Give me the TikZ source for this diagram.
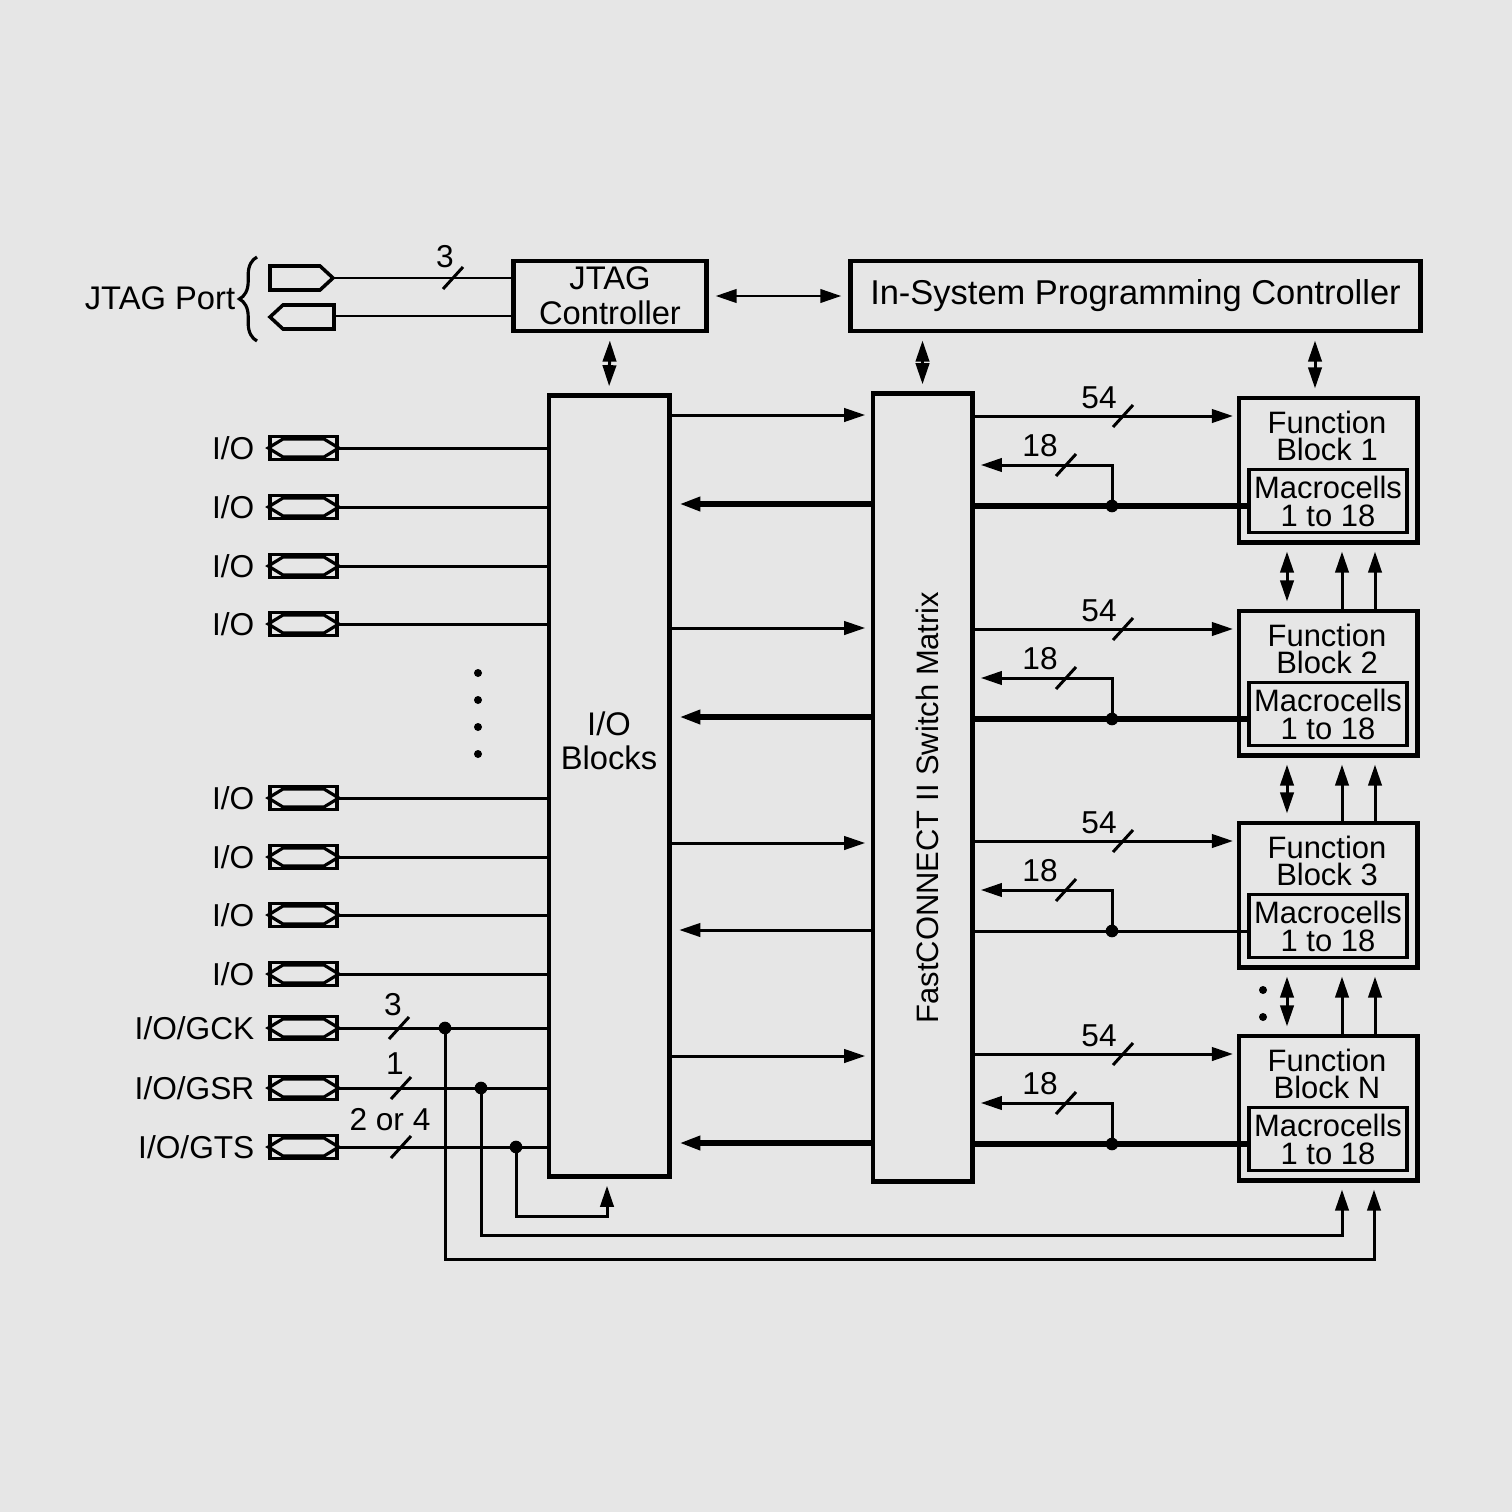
\documentclass[tikz,border=0pt]{standalone}
\usepackage{fontspec}
\setmainfont{Liberation Sans}
\usetikzlibrary{arrows.meta,positioning,decorations.pathreplacing}
\definecolor{bggray}{RGB}{230,230,230}
\begin{document}
\begin{tikzpicture}[x=0.01cm,y=-0.01cm,>={Triangle[length=6pt,width=3.8pt]},
    font=\fontsize{9}{8}\selectfont,
    wire/.style={line width=0.85pt},
    bus/.style={line width=1.9pt},
    blk/.style={draw,line width=1.4pt,inner sep=0pt,align=center},
    pad/.style={draw,line width=1pt,minimum width=0.67cm,minimum height=0.23cm,inner sep=0pt},
    jdot/.style={circle,fill,inner sep=0pt,minimum size=3.6pt},
    slash/.pic={\draw[wire] (-10,11)--(10,-11);}]
	\fill[bggray] (0,0) rectangle (1512,1512);
	\useasboundingbox (0,0) rectangle (1512,1512);
	% blocks
	\node[blk,minimum width=1.92cm,minimum height=0.70cm,font=\fontsize{9.3}{9.9}\selectfont] (jtag) at (610,296) {JTAG\\Controller};
	\node[blk,minimum width=5.69cm,minimum height=0.70cm,font=\fontsize{9.8}{10}\selectfont] (isp) at (1135.5,296) {In-System Programming Controller};
	\node[blk,minimum width=1.20cm,minimum height=7.80cm] (iob) at (609,786) {};
	\node[align=center,font=\fontsize{9.3}{9.7}\selectfont] (ioblbl) at (609,741) {I/O\\Blocks};
	\node[blk,minimum width=0.99cm,minimum height=7.87cm] (sw) at (922.5,787.5) {};
	\node[rotate=90,font=\fontsize{8.8}{9}\selectfont] (swlbl) at (927,807.5) {FastCONNECT II Switch Matrix};
	\foreach \y/\n in {470/1,683/2,895/3,1108/N}{
		\node[blk,minimum width=1.78cm,minimum height=1.44cm] (fb\n) at (1328,\y) {};
		\node[blk,line width=1pt,minimum width=1.58cm,minimum height=0.63cm,font=\fontsize{8.8}{8}\selectfont] (mc\n) at (1328,\y+31) {Macrocells\\1 to 18};
		\node[align=center,font=\fontsize{8.8}{7.6}\selectfont] (fbt\n) at (1327,\y-34) {Function\\Block \n};
		% switch matrix <-> function block
		\draw[wire,->,shorten >=1pt] (sw.east |- 0,\y-54) -- (fb\n.west |- 0,\y-54);
		\pic at (1123,\y-54) {slash};
		\node (n54\n) at (1099,\y-72) {54};
		\coordinate (j\n) at (1112,\y+36);
		\draw[wire,->,shorten >=1.8pt] (j\n) -- (1112,\y-5) -- (sw.east |- 0,\y-5);
		\pic at (1066,\y-5) {slash};
		\node (n18\n) at (1040,\y-24) {18};
		\node[jdot] at (j\n) {};
	}
	\foreach \n in {1,2,N}
		\draw[bus] (sw.east |- j\n) -- (mc\n.west |- j\n);
	\draw[wire] (sw.east |- j3) -- (mc3.west |- j3);
	% between function blocks
	\foreach \a/\b in {1/2,2/3,3/N}{
		\draw[wire,<->,shorten <=2pt,shorten >=2pt] (fb\a.south -| 1287,0) -- (fb\b.north -| 1287,0);
		\draw[wire,->,shorten >=2pt] (fb\b.north -| 1342,0) -- (fb\a.south -| 1342,0);
		\draw[wire,->,shorten >=2pt] (fb\b.north -| 1375,0) -- (fb\a.south -| 1375,0);
	}
	\fill (1263,990) circle (4) (1263,1017) circle (4);
	% top connections
	\draw[wire,<->,shorten <=2pt,shorten >=2pt] (jtag.east) -- (isp.west);
	\draw[wire,<->,shorten <=2pt,shorten >=2pt] (jtag.south) -- (iob.north);
	\draw[wire,<->,shorten <=2pt,shorten >=2pt] (isp.south -| sw.north) -- (sw.north);
	\draw[wire,<->,shorten <=2pt,shorten >=2pt] (isp.south -| 1315,0) -- (fb1.north -| 1315,0);
	% I/O blocks <-> switch matrix
	\foreach \y in {415,628,843,1056}
		\draw[wire,->,shorten >=1.5pt] (iob.east |- 0,\y) -- (sw.west |- 0,\y);
	\foreach \y in {504,717,1143}
		\draw[bus,->,shorten >=2.2pt] (sw.west |- 0,\y) -- (iob.east |- 0,\y);
	\draw[wire,->,shorten >=2.2pt] (sw.west |- 0,930) -- (iob.east |- 0,930);
	% JTAG port
	\node (jport) at (160,298) {\fontsize{9.3}{10}\selectfont JTAG Port};
	\draw[line width=0.9pt,decorate,decoration={brace,amplitude=5pt}] (257,341) -- (257,257);
	\draw[line width=1pt] (270,266) -- (320,266) -- (333,278) -- (320,290) -- (270,290) -- cycle;
	\coordinate (jin) at (333,278);
	\draw[line width=1pt] (270,317) -- (283,305) -- (334,305) -- (334,329) -- (283,329) -- cycle;
	\coordinate (jout) at (334,316);
	\draw[wire] (jin) -- (jtag.west |- jin);
	\draw[wire] (jout) -- (jtag.west |- jout);
	\pic at (453,278) {slash};
	\node (n3j) at (445,257) {3};
	% I/O pads
	\foreach \y/\t/\k in {448/I\slash O/1,507/I\slash O/2,566/I\slash O/3,624/I\slash O/4,798/I\slash O/5,857/I\slash O/6,915/I\slash O/7,974/I\slash O/8,1028/I\slash O\slash GCK/9,1088/I\slash O\slash GSR/10,1147/I\slash O\slash GTS/11}{
		\node[pad] (p\k) at (303.5,\y) {};
		\draw[line width=0.9pt] (p\k.west) -- (283,\y-9) -- (324,\y-9) -- (p\k.east) -- (324,\y+9) -- (283,\y+9) -- cycle;
		\node[anchor=east,inner sep=0pt] (t\k) at (255,\y) {\t};
		\draw[wire] (p\k.east) -- (iob.west |- p\k.east);
	}
	\foreach \y in {673,700,727,754}
		\fill (478,\y) circle (4);
	% global clock, set/reset and 3-state lines
	\pic at (399,1028) {slash};
	\node (n3g) at (393,1005) {3};
	\pic at (401,1088) {slash};
	\node (n1g) at (395,1064) {1};
	\pic at (401,1147) {slash};
	\node (n24g) at (390,1120) {2 or 4};
	\coordinate (gck) at (445,1028);
	\coordinate (gsr) at (481,1088);
	\coordinate (gts) at (516,1147);
	\draw[wire,->,shorten >=2pt] (gck) -- (445,1259) -- (1374,1259) -- (fbN.south -| 1374,0);
	\draw[wire,->,shorten >=2pt] (gsr) -- (481,1235) -- (1342,1235) -- (fbN.south -| 1342,0);
	\draw[wire,->,shorten >=2pt] (gts) -- (516,1216) -- (607,1216) -- (iob.south -| 607,0);
	\node[jdot] at (gck) {};
	\node[jdot] at (gsr) {};
	\node[jdot] at (gts) {};
\end{tikzpicture}
\end{document}
